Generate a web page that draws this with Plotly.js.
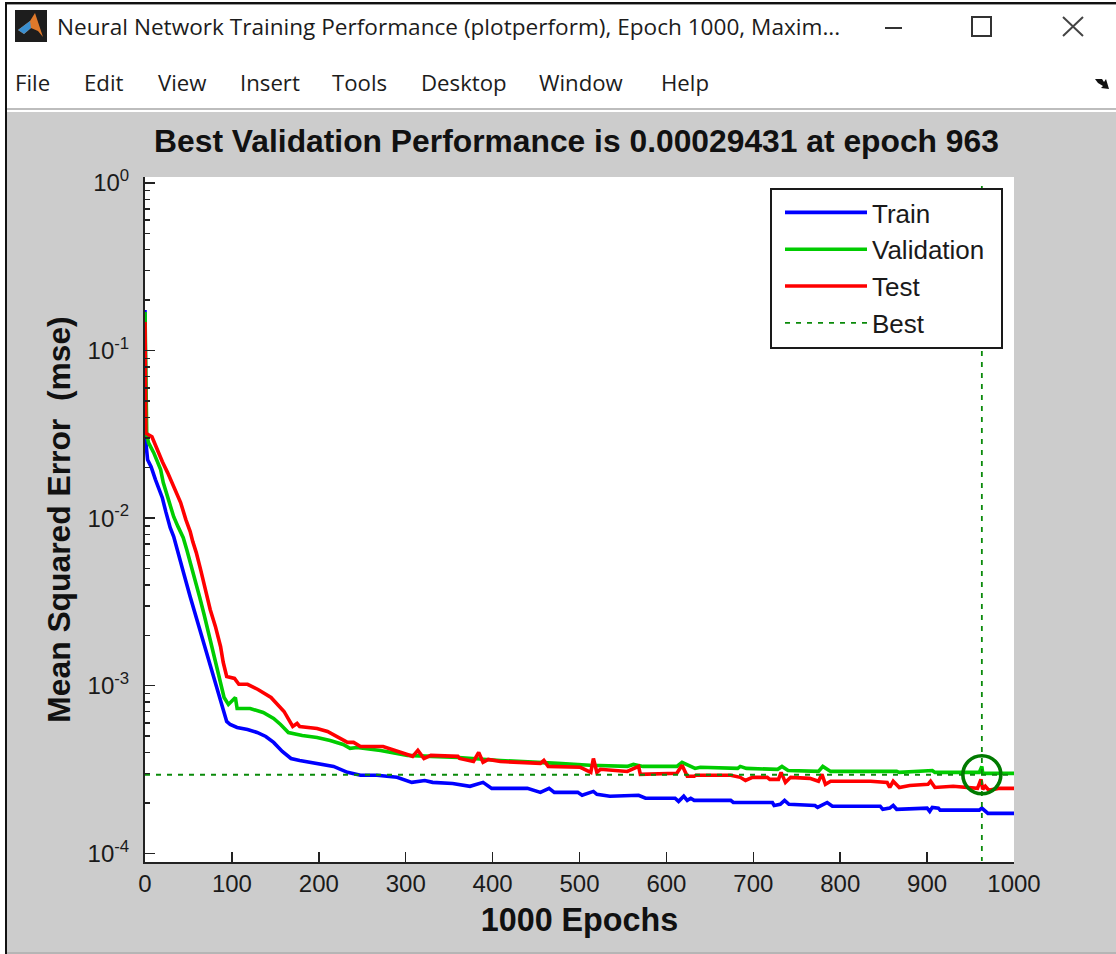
<!DOCTYPE html>
<html><head><meta charset="utf-8">
<script src="https://cdn.plot.ly/plotly-3.0.1.min.js"></script>
<style>
html,body{margin:0;padding:0;background:#fff;width:1116px;height:954px;overflow:hidden}
#chart{position:absolute;left:0;top:0;width:1116px;height:954px}
.chrome{position:absolute;background:#fff}
.label{position:absolute;font-family:"Open Sans",sans-serif;color:#1c1c1c;white-space:nowrap;line-height:1}
</style></head><body>
<div id="chart"></div>
<div class="chrome" style="left:0;top:0;width:1116px;height:112px"></div>
<div class="chrome" style="left:0;top:108px;width:1116px;height:2px;background:#bdbdbd"></div>
<div class="chrome" style="left:0;top:2px;width:1116px;height:2px;background:#111"></div>
<div class="chrome" style="left:0;top:4px;width:1116px;height:1px;background:#999"></div>
<div class="chrome" style="left:0;top:0;width:5px;height:954px"></div>
<div class="chrome" style="left:5px;top:2px;width:2px;height:952px;background:#111"></div>
<div class="chrome" style="left:7px;top:952px;width:1109px;height:2px;background:#b5b5b5"></div>
<svg style="position:absolute;left:0;top:0" width="1116" height="112">
  <rect x="15" y="10" width="32" height="32" fill="#1d1d1d"/>
  <path d="M18 30 L30 21 L35 13 L43 37 L38 31 L31 28 L24 34 Z" fill="#e0792a"/>
  <path d="M18 30 L30 21 L31 28 L24 34 Z" fill="#3a8fd0"/>
  <rect x="885" y="27" width="17" height="2" fill="#333"/>
  <rect x="972" y="17" width="19" height="19" fill="none" stroke="#333" stroke-width="2"/>
  <path d="M1063 17 L1083 36 M1083 17 L1063 36" stroke="#444" stroke-width="2" fill="none"/>
  <path d="M1095 79 L1102 79 L1104 82 L1106 79 L1109 89 L1101 88 L1103 86 L1098 83 Z" fill="#111"/>
</svg>
<div class="label" style="left:57px;top:16px;font-size:22.6px">Neural Network Training Performance (plotperform), Epoch 1000, Maxim...</div>
<div class="label" style="left:15px;top:72px;font-size:22.2px">File</div>
<div class="label" style="left:84px;top:72px;font-size:22.2px">Edit</div>
<div class="label" style="left:158px;top:72px;font-size:22.2px">View</div>
<div class="label" style="left:240px;top:72px;font-size:22.2px">Insert</div>
<div class="label" style="left:332px;top:72px;font-size:22.2px">Tools</div>
<div class="label" style="left:421px;top:72px;font-size:22.2px">Desktop</div>
<div class="label" style="left:539px;top:72px;font-size:22.2px">Window</div>
<div class="label" style="left:661px;top:72px;font-size:22.2px">Help</div>
<script>
const trainEpochs = [0,1,3,7,12,16,20,24,29,33,36,42,45,52,58,64,70,76,83,89,94,98,106,118,129,139,148,158,168,178,192,205,217,233,248,267,290,307,313,322,331,354,374,389,399,440,455,465,471,498,503,516,520,535,568,576,610,614,620,624,628,632,674,677,722,724,731,736,741,771,774,785,791,846,849,857,861,865,900,903,906,913,915,960,963,967,970,1000];
const trainMse = [0.1747,0.0282,0.0223,0.0203,0.0170,0.0152,0.0132,0.0109,0.00878,0.00776,0.00676,0.00529,0.0046,0.00340,0.00266,0.00208,0.00160,0.001285,0.00095,0.000752,0.000612,0.000587,0.000564,0.000548,0.000526,0.000498,0.000459,0.000405,0.000368,0.000358,0.000349,0.000339,0.000330,0.000304,0.000292,0.000292,0.000284,0.000265,0.000269,0.000272,0.000265,0.000261,0.000251,0.000265,0.000244,0.000244,0.000231,0.000244,0.000231,0.000231,0.000222,0.000234,0.000225,0.000219,0.000222,0.000213,0.000213,0.000204,0.000219,0.000207,0.000213,0.000207,0.000207,0.000201,0.000201,0.000193,0.000196,0.000207,0.000196,0.000193,0.000188,0.000201,0.000191,0.000191,0.000183,0.000186,0.000193,0.000183,0.000186,0.000178,0.000188,0.000186,0.000181,0.000181,0.000186,0.000178,0.000173,0.000173];

const validationEpochs = [0,1,2,4,10,18,21,27,33,38,44,48,54,58,63,68,73,79,83,87,91,96,104,106,121,136,148,156,165,181,198,213,228,236,244,271,302,329,361,409,441,452,475,512,555,562,573,612,618,628,633,639,682,685,692,728,733,740,775,780,789,846,865,868,906,909,960,963,964,1000];
const validationMse = [0.170,0.0688,0.0315,0.0282,0.0246,0.0195,0.0163,0.0129,0.0102,0.0089,0.00765,0.00649,0.00507,0.0043,0.00336,0.00266,0.00208,0.00158,0.00125,0.00106,0.000851,0.000773,0.000851,0.000732,0.000732,0.000692,0.000638,0.000587,0.000526,0.000505,0.000491,0.000471,0.000446,0.000423,0.000428,0.000411,0.000384,0.000379,0.000373,0.000358,0.000353,0.000349,0.000344,0.000335,0.000330,0.000339,0.000330,0.000330,0.000349,0.000330,0.000321,0.000326,0.000321,0.000330,0.000321,0.000317,0.000330,0.000312,0.000308,0.000330,0.000308,0.000308,0.000308,0.000304,0.000312,0.000304,0.000304,0.000330,0.000300,0.000300];

const testEpochs = [0,1,8,14,20,26,33,41,47,52,55,59,64,69,75,81,87,90,94,103,108,118,130,145,160,170,175,178,198,210,221,233,240,248,274,293,308,314,321,329,360,362,378,384,389,395,409,455,459,464,501,513,516,520,524,555,568,570,612,618,624,632,634,674,685,691,699,716,719,729,732,737,743,765,775,779,783,789,835,854,857,861,868,880,901,904,909,930,958,962,964,967,971,982,1000];
const testMse = [0.148,0.0321,0.0306,0.0256,0.0217,0.0187,0.0152,0.0124,0.0098,0.00831,0.00724,0.00623,0.00493,0.00375,0.00285,0.00226,0.00171,0.00138,0.001135,0.001105,0.00102,0.00102,0.00095,0.000851,0.000702,0.000571,0.000595,0.000571,0.000556,0.000533,0.000498,0.000459,0.000459,0.000434,0.000434,0.000405,0.000379,0.000411,0.000368,0.000384,0.000379,0.000368,0.000353,0.000400,0.000349,0.000363,0.000353,0.000344,0.000358,0.000330,0.000326,0.000304,0.000368,0.000304,0.000317,0.000308,0.000330,0.000296,0.000300,0.000335,0.000288,0.000288,0.000292,0.000292,0.000284,0.000272,0.000284,0.000284,0.000276,0.000276,0.000304,0.000265,0.000284,0.000280,0.000269,0.000296,0.000258,0.000269,0.000269,0.000265,0.000247,0.000269,0.000247,0.000254,0.000258,0.000269,0.000247,0.000251,0.000244,0.000276,0.000241,0.000251,0.000238,0.000244,0.000244];

const bestEpoch = 963;
const bestMse = 0.00029431;
const bestLineY = [0.96, 0.00009];
const xTicks = [0,100,200,300,400,500,600,700,800,900,1000];
const yTicks = [1,0.1,0.01,0.001,0.0001];
const yTickLabels = ["10<sup>0</sup>","10<sup>-1</sup>","10<sup>-2</sup>","10<sup>-3</sup>","10<sup>-4</sup>"];
const minorMultipliers = [2,3,4,5,6,7,8,9];
const minorDecades = [0.0001,0.001,0.01,0.1];
const yMinor = minorDecades.flatMap(d => minorMultipliers.map(m => m*d));

const FONT = '"Liberation Sans", Arial, sans-serif';
const INK = '#1a1a1a';
const traces = [
  {x:trainEpochs,y:trainMse,name:'Train',mode:'lines',legendgroup:'a',line:{color:'#0000ff',width:3.6}},
  {x:validationEpochs,y:validationMse,name:'Validation',mode:'lines',legendgroup:'b',line:{color:'#00cc00',width:3.6}},
  {x:testEpochs,y:testMse,name:'Test',mode:'lines',legendgroup:'c',line:{color:'#ff0000',width:3.6}},
  {x:[0,1000,null,bestEpoch,bestEpoch],y:[bestMse,bestMse,null,bestLineY[0],bestLineY[1]],name:'Best',mode:'lines',legendgroup:'d',
   line:{color:'#0a8a0a',width:1.8,dash:'5px,6px'}},
  {x:[bestEpoch],y:[bestMse],mode:'markers',showlegend:false,hoverinfo:'skip',
   marker:{symbol:'circle-open',size:38,color:'#007a00',line:{color:'#007a00',width:3.6}}}
];
const layout = {
  width:1116,height:954,
  paper_bgcolor:'#cccccc',plot_bgcolor:'#ffffff',
  margin:{l:145,r:102,t:177,b:92,pad:0},
  font:{family:FONT,color:INK},
  showlegend:true,
  title:{text:'<b>Best Validation Performance is 0.00029431 at epoch 963</b>',
    font:{family:FONT,size:31.8,color:'#111'},x:(576.5-145)/869,xanchor:'center',xref:'paper',
    y:1-141/954,yanchor:'middle',yref:'container',automargin:false,pad:{t:0,b:0,l:0,r:0}},
  xaxis:{range:[0,1000],tickmode:'array',tickvals:xTicks,ticktext:xTicks.map(String),
    ticks:'inside',ticklen:10,tickwidth:1.5,tickcolor:'#222',
    showline:true,linecolor:'#222',linewidth:2,mirror:false,showgrid:false,zeroline:false,
    tickfont:{family:FONT,size:24,color:INK},ticklabelstandoff:-1,
    title:{text:'<b>1000 Epochs</b>\u00A0',font:{family:FONT,size:32.3,color:'#111'},standoff:13}},
  yaxis:{type:'log',range:[-4.052,0.036],tickmode:'array',tickvals:yTicks,ticktext:yTickLabels,
    ticks:'inside',ticklen:10,tickwidth:1.5,tickcolor:'#222',
    minor:{tickmode:'array',tickvals:yMinor,ticks:'inside',ticklen:5,tickwidth:1.5,tickcolor:'#222',showgrid:false},
    showline:true,linecolor:'#222',linewidth:2,mirror:false,showgrid:false,zeroline:false,
    tickfont:{family:FONT,size:24,color:INK},ticklabelstandoff:9,
    title:{text:'<b>Mean Squared Error \u00A0(mse)</b>',font:{family:FONT,size:31.8,color:'#111'},standoff:7}},
  legend:{x:(780-145)/869,xref:'paper',xanchor:'left',y:(862-189)/685,yref:'paper',yanchor:'top',
    bgcolor:'rgba(0,0,0,0)',borderwidth:0,itemwidth:82,tracegroupgap:7,traceorder:'normal',
    font:{family:FONT,size:26,color:INK}},
  shapes:[{type:'rect',xref:'paper',yref:'paper',layer:'above',
    x0:(771-145)/869,x1:(1002-145)/869,y0:(862-348)/685,y1:(862-189)/685,
    fillcolor:'#ffffff',line:{color:'#1a1a1a',width:2}}]
};
Plotly.newPlot('chart',traces,layout,{displayModeBar:false,staticPlot:true});
</script>
</body></html>
